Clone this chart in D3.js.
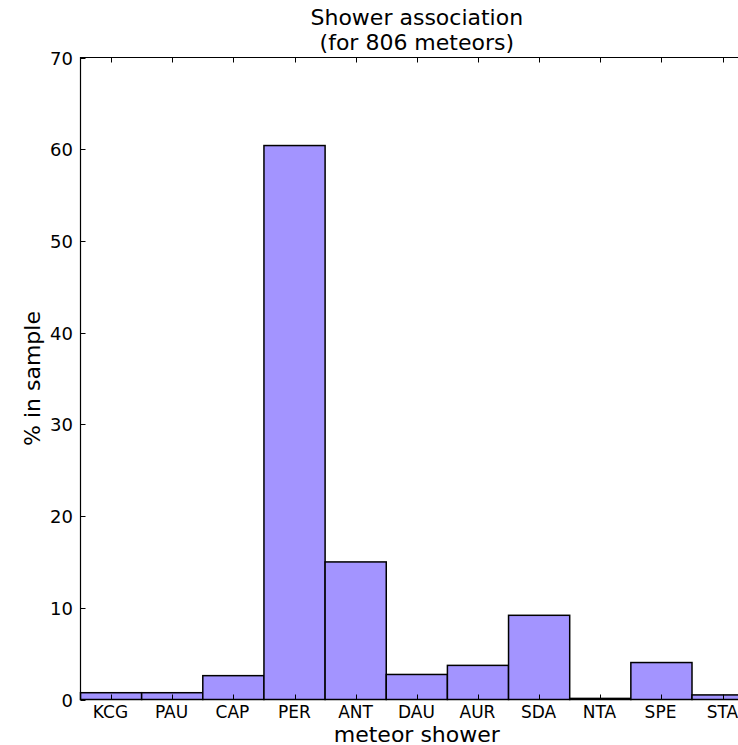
<!DOCTYPE html>
<html>
<head>
<meta charset="utf-8">
<script src="https://cdn.jsdelivr.net/npm/d3@7"></script>
<style>
  body { margin: 0; background: #fff; }
  svg text { font-family: "DejaVu Sans", sans-serif; fill: #000; }
</style>
</head>
<body>
<script>
// shower codes and % of the 806 meteors
var showers = ["KCG", "PAU", "CAP", "PER", "ANT", "DAU", "AUR", "SDA", "NTA", "SPE", "STA"] ;
var percents = [0.74, 0.74, 2.6, 60.4, 15.0, 2.73, 3.72, 9.18, 0.12, 4.03, 0.5] ;
var yTicks = [0, 10, 20, 30, 40, 50, 60, 70] ;

var width = 738, height = 745 ;
var plotLeft = 80.5, plotTop = 57.5, plotBottom = 699.5 ;
var barW = 61.15 ;

var svg = d3.select("body").append("svg")
    .attr("width", width)
    .attr("height", height) ;

var x = d3.scaleLinear()
    .domain([0, showers.length])
    .range([plotLeft, plotLeft + showers.length*barW]) ;

var y = d3.scaleLinear()
    .domain([0, 70])
    .range([plotBottom, plotTop]) ;

// bars
svg.append("g").selectAll("rect")
    .data(percents)
    .enter().append("rect")
    .attr("x", function(d, i) { return x(i) ; })
    .attr("y", function(d) { return y(d) ; })
    .attr("width", function(d, i) { return x(i+1) - x(i) ; })
    .attr("height", function(d) { return y(0) - y(d) ; })
    .attr("fill", "#a394ff")
    .attr("stroke", "#000")
    .attr("stroke-width", 1.5) ;

// frame (right side falls off the page)
var xr = x(showers.length) ;
svg.append("path")
    .attr("d", "M" + xr + "," + plotTop + "H" + plotLeft + "V" + plotBottom + "H" + xr)
    .attr("fill", "none")
    .attr("stroke", "#000")
    .attr("stroke-width", 1.2) ;

// x ticks, inward on top and bottom
var xt = svg.append("g") ;
showers.forEach(function(s, i) {
    var cx = Math.round(x(i + 0.5)) + 0.5 ;
    xt.append("line").attr("x1", cx).attr("x2", cx)
	.attr("y1", plotBottom).attr("y2", plotBottom - 5)
	.attr("stroke", "#000").attr("stroke-width", 1) ;
    xt.append("line").attr("x1", cx).attr("x2", cx)
	.attr("y1", plotTop).attr("y2", plotTop + 5)
	.attr("stroke", "#000").attr("stroke-width", 1) ;
    xt.append("text")
	.attr("x", cx - 1)
	.attr("y", 718)
	.attr("font-size", "17px")
	.attr("text-anchor", "middle")
	.text(s) ;
}) ;

// y ticks
var yt = svg.append("g") ;
yTicks.forEach(function(t) {
    var cy = Math.round(y(t)) + 0.5 ;
    yt.append("line").attr("x1", plotLeft).attr("x2", plotLeft + 5)
	.attr("y1", cy).attr("y2", cy)
	.attr("stroke", "#000").attr("stroke-width", 1) ;
    yt.append("text")
	.attr("x", 73)
	.attr("y", cy + 6.5)
	.attr("font-size", "18px")
	.attr("text-anchor", "end")
	.text(t) ;
}) ;

var cxTitle = (plotLeft + xr)/2 ;

svg.append("text")
    .attr("x", cxTitle).attr("y", 25)
    .attr("font-size", "22px")
    .attr("text-anchor", "middle")
    .text("Shower association") ;
svg.append("text")
    .attr("x", cxTitle).attr("y", 50)
    .attr("font-size", "22px")
    .attr("text-anchor", "middle")
    .text("(for 806 meteors)") ;

svg.append("text")
    .attr("x", cxTitle).attr("y", 742)
    .attr("font-size", "22px")
    .attr("text-anchor", "middle")
    .text("meteor shower") ;

svg.append("text")
    .attr("transform", "translate(40," + ((plotTop + plotBottom)/2) + ") rotate(-90)")
    .attr("font-size", "22px")
    .attr("text-anchor", "middle")
    .text("% in sample") ;
</script>
</body>
</html>
